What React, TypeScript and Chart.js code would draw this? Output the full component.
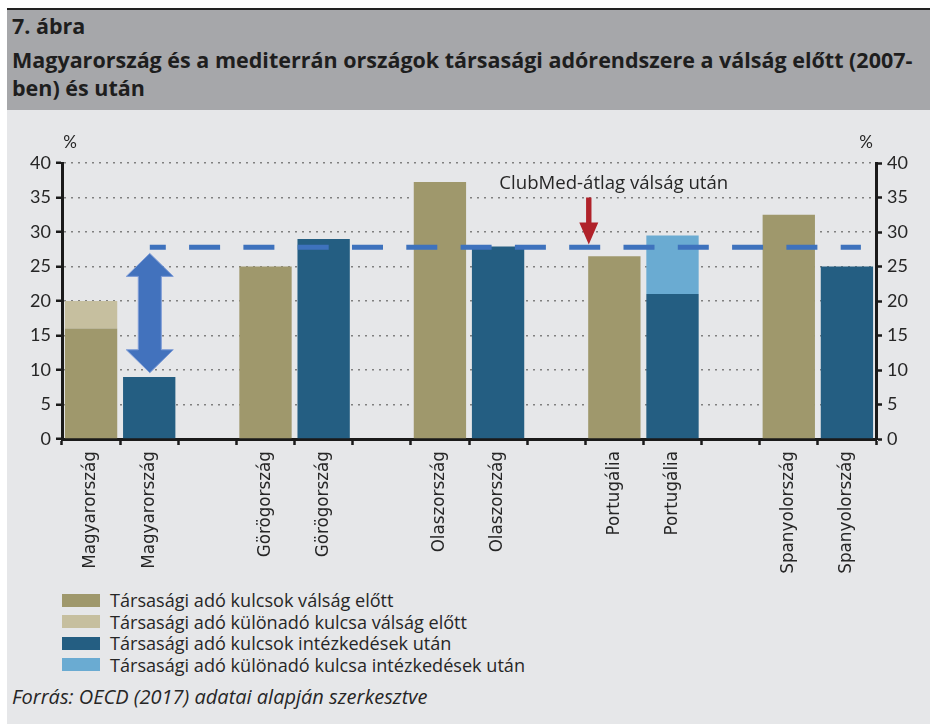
import { useEffect, useRef } from "react";
import { Chart, registerables } from "chart.js";
Chart.register(...registerables);

const categories = [
  "Magyarország", "Magyarország", "",
  "Görögország", "Görögország", "",
  "Olaszország", "Olaszország", "",
  "Portugália", "Portugália", "",
  "Spanyolország", "Spanyolország",
];
const beforeRate = [16, null, null, 25, null, null, 37.25, null, null, 26.5, null, null, 32.5, null];
const beforeSurtax = [4, null, null, null, null, null, null, null, null, null, null, null, null, null];
const afterRate = [null, 9, null, null, 29, null, null, 27.9, null, null, 21, null, null, 25];
const afterSurtax = [null, null, null, null, null, null, null, null, null, null, 8.5, null, null, null];
const seriesLabels = [
  "Társasági adó kulcsok válság előtt",
  "Társasági adó különadó kulcsa válság előtt",
  "Társasági adó kulcsok intézkedések után",
  "Társasági adó különadó kulcsa intézkedések után",
];
const seriesColors = ["#9f986c", "#c6bf9f", "#245e82", "#6aabd2"];
const clubMedAverage = 27.8;
const averageSpan = [1.51, 13.74];
const gapArrow = { x: 1.51, top: 26.9, bottom: 9.6 };
const noteArrow = { x: 9.06, top: 35.0, bottom: 28.2 };
const noteText = { x: 9.49, y: 37.0, text: "ClubMed-átlag válság után" };
const yMin = 0;
const yMax = 40;
const yStep = 5;

const TEXT = "#262626";
const TEXT_FONT = "'Open Sans'";

const annotationPlugin = {
  id: "annotations",
  afterDatasetsDraw(chart: any) {
    const { ctx, chartArea } = chart;
    const xs = chart.scales.x2;
    const ys = chart.scales.y;
    ctx.save();
    // double arrow
    {
      const cx = xs.getPixelForValue(gapArrow.x);
      const yT = ys.getPixelForValue(gapArrow.top);
      const yB = ys.getPixelForValue(gapArrow.bottom);
      const hw = 23.5, sw = 11.5, hl = 23;
      ctx.beginPath();
      ctx.moveTo(cx, yT);
      ctx.lineTo(cx + hw, yT + hl);
      ctx.lineTo(cx + sw, yT + hl);
      ctx.lineTo(cx + sw, yB - hl);
      ctx.lineTo(cx + hw, yB - hl);
      ctx.lineTo(cx, yB);
      ctx.lineTo(cx - hw, yB - hl);
      ctx.lineTo(cx - sw, yB - hl);
      ctx.lineTo(cx - sw, yT + hl);
      ctx.lineTo(cx - hw, yT + hl);
      ctx.closePath();
      ctx.fillStyle = "#4272bd";
      ctx.fill();
      ctx.strokeStyle = "#7d9bd6";
      ctx.lineWidth = 1;
      ctx.stroke();
    }
    // red arrow
    {
      const cx = xs.getPixelForValue(noteArrow.x);
      const yT = ys.getPixelForValue(noteArrow.top);
      const yB = ys.getPixelForValue(noteArrow.bottom);
      const hw = 9.5, sw = 2.7, hl = 22;
      ctx.beginPath();
      ctx.moveTo(cx - sw, yT);
      ctx.lineTo(cx + sw, yT);
      ctx.lineTo(cx + sw, yB - hl);
      ctx.lineTo(cx + hw, yB - hl);
      ctx.lineTo(cx, yB);
      ctx.lineTo(cx - hw, yB - hl);
      ctx.lineTo(cx - sw, yB - hl);
      ctx.closePath();
      ctx.fillStyle = "#b0222a";
      ctx.fill();
    }
    // note text
    ctx.fillStyle = TEXT;
    ctx.font = "18.6px " + TEXT_FONT;
    ctx.textAlign = "center";
    ctx.textBaseline = "middle";
    ctx.fillText(noteText.text, xs.getPixelForValue(noteText.x), ys.getPixelForValue(noteText.y));
    // % units
    ctx.font = "17px Lato";
    ctx.fillText("%", chartArea.left + 8, chartArea.top - 20);
    ctx.fillText("%", chartArea.right - 10, chartArea.top - 20);
    ctx.restore();
  },
};

export default function App() {
  const ref = useRef<HTMLCanvasElement | null>(null);
  useEffect(() => {
    if (!ref.current) return;
    Chart.defaults.font.family = "Lato";
    const yTickOpts = {
      color: TEXT,
      font: { size: 18, family: "Lato" },
      padding: 5,
      stepSize: yStep,
    };
    const barBase = { grouped: false, barPercentage: 0.9, categoryPercentage: 1 };
    const chart = new Chart(ref.current, {
      type: "bar",
      data: {
        labels: categories,
        datasets: [
          {
            type: "line",
            label: "ClubMed-átlag",
            data: averageSpan.map((x) => ({ x, y: clubMedAverage })),
            xAxisID: "x2",
            yAxisID: "y",
            borderColor: "#3e72bd",
            borderWidth: 5,
            borderDash: [31, 23.3],
            borderDashOffset: 15,
            pointRadius: 0,
            fill: false,
            order: -1,
            stack: "avg",
          } as any,
          { ...barBase, label: seriesLabels[0], data: beforeRate, backgroundColor: seriesColors[0] },
          { ...barBase, label: seriesLabels[1], data: beforeSurtax, backgroundColor: seriesColors[1] },
          { ...barBase, label: seriesLabels[2], data: afterRate, backgroundColor: seriesColors[2] },
          { ...barBase, label: seriesLabels[3], data: afterSurtax, backgroundColor: seriesColors[3] },
        ],
      },
      options: {
        responsive: false,
        animation: false,
        devicePixelRatio: 1,
        layout: { padding: { top: 54, left: 0, right: 0, bottom: 0 } },
        plugins: { legend: { display: false }, tooltip: { enabled: false } },
        scales: {
          x: {
            type: "category",
            stacked: true,
            offset: true,
            grid: {
              offset: true,
              drawOnChartArea: false,
              drawTicks: true,
              tickLength: 6,
              tickColor: "#1a1a1a",
              tickWidth: 2.5,
            },
            border: { display: true, color: "#1a1a1a", width: 3 },
            ticks: {
              autoSkip: false,
              minRotation: 90,
              maxRotation: 90,
              color: TEXT,
              padding: 6,
              font: { family: "DejaVu Sans", size: 16.8 },
            },
            afterFit: (s: any) => { s.height = 142; },
          },
          x2: {
            type: "linear",
            min: 0,
            max: categories.length,
            offset: false,
            grace: 0,
            display: false,
          },
          y: {
            type: "linear",
            position: "left",
            stacked: true,
            min: yMin,
            max: yMax,
            ticks: yTickOpts,
            grid: {
              color: "#808080",
              lineWidth: 1.5,
              tickColor: "#1a1a1a",
              tickWidth: 2.5,
              tickLength: 6,
              tickBorderDash: [],
            },
            border: { display: true, color: "#1a1a1a", width: 3, dash: [2, 5] },
            afterFit: (s: any) => { s.width = 55; },
          },
          y2: {
            type: "linear",
            position: "right",
            min: yMin,
            max: yMax,
            ticks: yTickOpts,
            grid: {
              drawOnChartArea: false,
              tickColor: "#1a1a1a",
              tickWidth: 2.5,
              tickLength: 6,
            },
            border: { display: true, color: "#1a1a1a", width: 3 },
            afterFit: (s: any) => { s.width = 54; },
          },
        },
      } as any,
      plugins: [annotationPlugin],
    });
    return () => chart.destroy();
  }, []);

  const legendRows = seriesLabels.map((l, i) => (
    <div key={i} style={{ position: "absolute", left: 62, top: 600 + i * 21.6 - 11, height: 22, display: "flex", alignItems: "center" }}>
      <div style={{ width: 38, height: 13, background: seriesColors[i] }} />
      <div style={{ marginLeft: 10, fontSize: 18.1, fontFamily: TEXT_FONT, color: TEXT, whiteSpace: "nowrap" }}>{l}</div>
    </div>
  ));

  const titleStyle = { position: "absolute" as const, left: 12, fontSize: 21.5, lineHeight: "26px", fontWeight: 700, fontFamily: TEXT_FONT, color: "#1e1e1e", whiteSpace: "nowrap" as const };

  return (
    <div style={{ position: "absolute", left: 0, top: 0, width: 930, height: 724, background: "#fff", overflow: "hidden", fontFamily: "Lato" }}>
      <div style={{ position: "absolute", left: 7, top: 8, width: 923, height: 2, background: "#222" }} />
      <div style={{ position: "absolute", left: 7, top: 10, width: 923, height: 100, background: "#a6a7aa" }} />
      <div style={{ position: "absolute", left: 7, top: 110, width: 923, height: 614, background: "#e6e7e9" }} />
      <div style={{ ...titleStyle, top: 13 }}>7. ábra</div>
      <div style={{ ...titleStyle, top: 47 }}>Magyarország és a mediterrán országok társasági adórendszere a válság előtt (2007-</div>
      <div style={{ ...titleStyle, top: 75 }}>ben) és után</div>
      <canvas ref={ref} width={923} height={472} style={{ position: "absolute", left: 7, top: 109, width: 923, height: 472 }} />
      {legendRows}
      <div style={{ position: "absolute", left: 12, top: 685, fontSize: 20, lineHeight: "24px", fontStyle: "italic", fontFamily: TEXT_FONT, color: TEXT, whiteSpace: "nowrap" }}>Forrás: OECD (2017) adatai alapján szerkesztve</div>
    </div>
  );
}
